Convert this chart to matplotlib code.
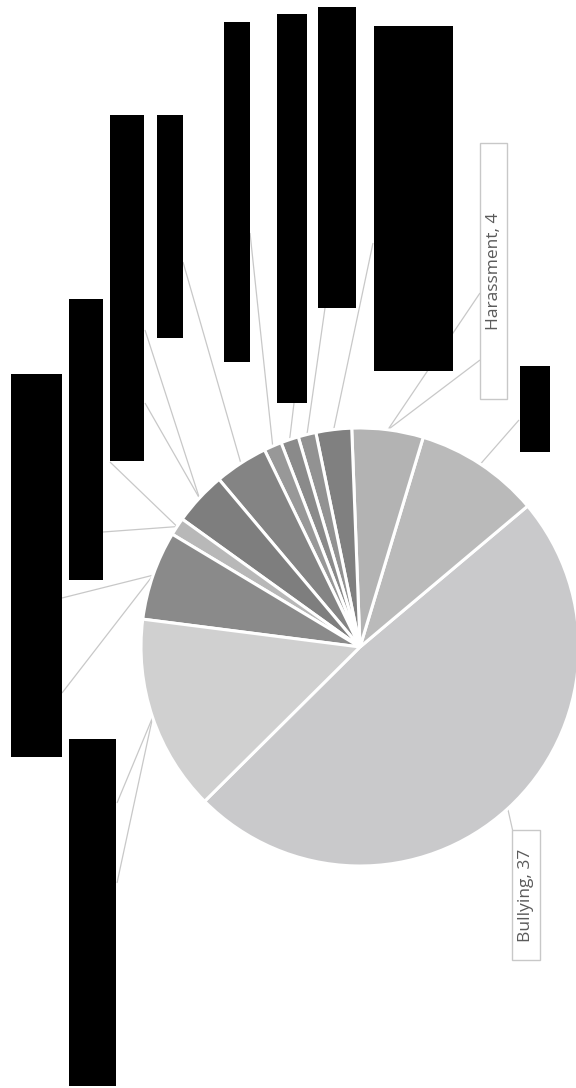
import numpy as np
import matplotlib
matplotlib.use("Agg")
import matplotlib.pyplot as plt
from matplotlib.patches import Rectangle

W, H = 576, 1088

# Incident categories (most names are blacked out on the printed copy)
categories = ["Bullying", "(withheld)", "Harassment", "(withheld)", "(withheld)",
              "(withheld)", "(withheld)", "(withheld)", "(withheld)", "(withheld)",
              "(withheld)", "(withheld)"]
values = [37, 7, 4, 2, 1, 1, 1, 3, 3, 1, 5, 11]
visible = [True, False, True, False, False, False, False, False, False, False,
           False, False]
colors = ["#c9c9cb", "#bababa", "#b3b3b3", "#808080", "#929292", "#8a8a8a",
          "#989898", "#848484", "#7e7e7e", "#b8b8b8", "#8a8a8a", "#d0d0d0"]

# Label boxes, pixel coords (x0, y0, x1, y1) measured from the top-left
label_boxes = [
    (512, 830, 540, 960),
    (520, 366, 550, 452),
    (480, 143, 507, 399),
    (374, 26, 453, 371),
    (318, 7, 356, 308),
    (277, 14, 307, 403),
    (224, 22, 250, 362),
    (157, 115, 183, 338),
    (110, 115, 144, 461),
    (69, 299, 103, 580),
    (11, 374, 62, 757),
    (69, 739, 116, 1086),
]
# Where each leader line leaves its label
leader_starts = [
    [(513, 832)],
    [(519, 420)],
    [(480, 293), (480, 360)],
    [(373, 243)],
    [(325, 308)],
    [(294, 403)],
    [(250, 233)],
    [(183, 262)],
    [(145, 403), (145, 330)],
    [(103, 532), (110, 462)],
    [(62, 598), (62, 693)],
    [(117, 803), (117, 883)],
]

cx, cy, r = 360, H - 647, 219
start = 224.8

fig = plt.figure(figsize=(W / 100, H / 100), dpi=100)
ax = fig.add_axes([0, 0, 1, 1])
wedges, _ = ax.pie(values, colors=colors, startangle=start, counterclock=True,
                   center=(cx, cy), radius=r,
                   wedgeprops=dict(edgecolor="white", linewidth=2.2))
ax.set_xlim(0, W)
ax.set_ylim(0, H)
ax.set_aspect("equal")
ax.axis("off")

# Leader lines from each label to the rim of its wedge
for w, starts in zip(wedges, leader_starts):
    mid = np.deg2rad((w.theta1 + w.theta2) / 2)
    ex, ey = cx + r * np.cos(mid), cy + r * np.sin(mid)
    for sx, sy in starts:
        ax.plot([sx, ex], [H - sy, ey], color="#c8c8c8", lw=0.9, zorder=0.5,
                solid_capstyle="butt")

# Labels: readable ones in framed boxes, the rest blacked out
for name, v, show, (x0, y0, x1, y1) in zip(categories, values, visible, label_boxes):
    if show:
        ax.add_patch(Rectangle((x0, H - y1), x1 - x0, y1 - y0, facecolor="white",
                               edgecolor="#c8c8c8", lw=1.0, zorder=3))
        ax.text((x0 + x1) / 2, H - (y0 + y1) / 2, f"{name}, {v}", rotation=90,
                ha="center", va="center", fontsize=12.5, color="#5a5a5a",
                family="Open Sans", zorder=4)
    else:
        ax.add_patch(Rectangle((x0, H - y1), x1 - x0, y1 - y0, facecolor="black",
                               edgecolor="none", zorder=3))

fig.savefig("out.png", dpi=100, facecolor="white")
